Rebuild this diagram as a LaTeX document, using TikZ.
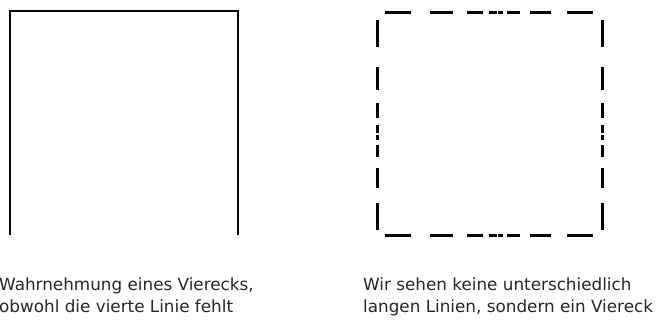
\documentclass[tikz,border=0pt]{standalone}
\usepackage{fontspec}
\setmainfont{DejaVu Sans}
\begin{document}
\begin{tikzpicture}[x=1pt,y=-1pt,
  solidline/.style={line width=2pt,black},
  dashseg/.style={line width=3pt,black},
  caption/.style={anchor=base west,inner sep=0pt,font=\fontsize{16.8}{20}\selectfont,text=black!85}]
\useasboundingbox (0,0) rectangle (659,322);
% left open square
\draw[solidline] (10,235) -- (10,11) -- (238,11) -- (238,235);
% right dashed square
\foreach \a/\b in {385/411,430/453,467/483,489/496.5,498/503,507/520,530/551,567/593}{
  \draw[dashseg] (\a,12) -- (\b,12);
  \draw[dashseg] (\a,235) -- (\b,235);
}
\foreach \a/\b in {20/47,67/90,103/118,125/132.5,134.5/140,145/157,168/188,203/230}{
  \draw[dashseg] (377.5,\a) -- (377.5,\b);
  \draw[dashseg] (602,\a) -- (602,\b);
}
\node[caption] (l1) at (-1,290) {Wahrnehmung eines Vierecks,};
\node[caption] (l2) at (-1,312) {obwohl die vierte Linie fehlt};
\node[caption] (r1) at (363,290) {Wir sehen keine unterschiedlich};
\node[caption] (r2) at (363,312) {langen Linien, sondern ein Viereck};
\end{tikzpicture}
\end{document}
